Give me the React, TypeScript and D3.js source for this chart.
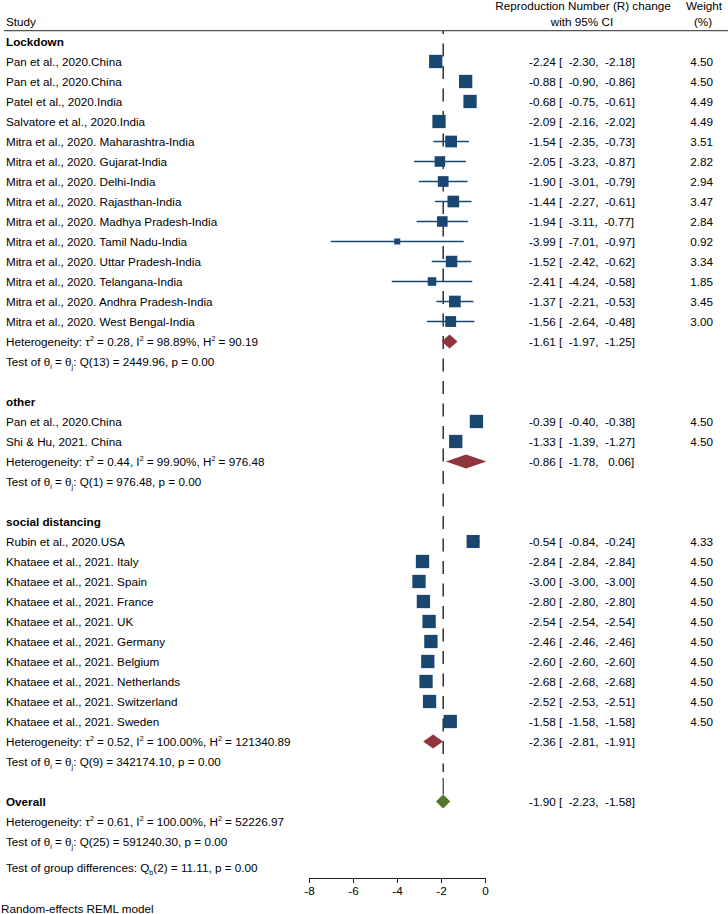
import React, { useEffect, useRef } from "react";
import * as d3 from "d3";

type Study = [string, number, number, number, number];

// study rows: label, estimate, lower CI, upper CI, weight (%)
const lockdown: Study[] = [
  ["Pan et al., 2020.China", -2.24, -2.3, -2.18, 4.5],
  ["Pan et al., 2020.China", -0.88, -0.9, -0.86, 4.5],
  ["Patel et al., 2020.India", -0.68, -0.75, -0.61, 4.49],
  ["Salvatore et al., 2020.India", -2.09, -2.16, -2.02, 4.49],
  ["Mitra et al., 2020. Maharashtra-India", -1.54, -2.35, -0.73, 3.51],
  ["Mitra et al., 2020. Gujarat-India", -2.05, -3.23, -0.87, 2.82],
  ["Mitra et al., 2020. Delhi-India", -1.9, -3.01, -0.79, 2.94],
  ["Mitra et al., 2020. Rajasthan-India", -1.44, -2.27, -0.61, 3.47],
  ["Mitra et al., 2020. Madhya Pradesh-India", -1.94, -3.11, -0.77, 2.84],
  ["Mitra et al., 2020. Tamil Nadu-India", -3.99, -7.01, -0.97, 0.92],
  ["Mitra et al., 2020. Uttar Pradesh-India", -1.52, -2.42, -0.62, 3.34],
  ["Mitra et al., 2020. Telangana-India", -2.41, -4.24, -0.58, 1.85],
  ["Mitra et al., 2020. Andhra Pradesh-India", -1.37, -2.21, -0.53, 3.45],
  ["Mitra et al., 2020. West Bengal-India", -1.56, -2.64, -0.48, 3.0],
];

const other: Study[] = [
  ["Pan et al., 2020.China", -0.39, -0.4, -0.38, 4.5],
  ["Shi & Hu, 2021. China", -1.33, -1.39, -1.27, 4.5],
];

const socialDistancing: Study[] = [
  ["Rubin et al., 2020.USA", -0.54, -0.84, -0.24, 4.33],
  ["Khataee et al., 2021. Italy", -2.84, -2.84, -2.84, 4.5],
  ["Khataee et al., 2021. Spain", -3.0, -3.0, -3.0, 4.5],
  ["Khataee et al., 2021. France", -2.8, -2.8, -2.8, 4.5],
  ["Khataee et al., 2021. UK", -2.54, -2.54, -2.54, 4.5],
  ["Khataee et al., 2021. Germany", -2.46, -2.46, -2.46, 4.5],
  ["Khataee et al., 2021. Belgium", -2.6, -2.6, -2.6, 4.5],
  ["Khataee et al., 2021. Netherlands", -2.68, -2.68, -2.68, 4.5],
  ["Khataee et al., 2021. Switzerland", -2.52, -2.53, -2.51, 4.5],
  ["Khataee et al., 2021. Sweden", -1.58, -1.58, -1.58, 4.5],
];

const groupNames = ["Lockdown", "other", "social distancing"];
const groupStudies = [lockdown, other, socialDistancing];
// pooled: estimate, lower, upper
const groupPooled = [
  [-1.61, -1.97, -1.25],
  [-0.86, -1.78, 0.06],
  [-2.36, -2.81, -1.91],
];
// heterogeneity: tau2, I2, H2, df, Q
const groupHet = [
  ["0.28", "98.89", "90.19", "13", "2449.96"],
  ["0.44", "99.90", "976.48", "1", "976.48"],
  ["0.52", "100.00", "121340.89", "9", "342174.10"],
];
const overallPooled = [-1.9, -2.23, -1.58];
const overallHet = ["0.61", "100.00", "52226.97", "25", "591240.30"];
const groupDiff = ["2", "11.11", "0.00"];
const xTicks = [-8, -6, -4, -2, 0];

const FONT = "'Liberation Sans', Arial, Helvetica, sans-serif";
const FS = 11.7;
const NAVY = "#1a476f";
const MAROON = "#90353b";
const GREEN = "#55752f";

const f2 = (v: number) => v.toFixed(2);
const pad6 = (v: number) => f2(v).padStart(6, " ");
const ciText = (e: number, l: number, u: number) => `${f2(e)} [ ${pad6(l)}, ${pad6(u)}]`;

const HetText = ({ y, h }: { y: number; h: string[] }) => (
  <text x={6} y={y} dy="0.35em">
    Heterogeneity: τ<tspan fontSize={7} dy={-5}>2</tspan>
    <tspan dy={5}> = {h[0]}, I</tspan>
    <tspan fontSize={7} dy={-5}>2</tspan>
    <tspan dy={5}> = {h[1]}%, H</tspan>
    <tspan fontSize={7} dy={-5}>2</tspan>
    <tspan dy={5}> = {h[2]}</tspan>
  </text>
);

const TestText = ({ y, h }: { y: number; h: string[] }) => (
  <text x={6} y={y} dy="0.35em">
    Test of θ<tspan fontSize={7} dy={3}>i</tspan>
    <tspan dy={-3}> = θ</tspan>
    <tspan fontSize={7} dy={3}>j</tspan>
    <tspan dy={-3}>: Q({h[3]}) = {h[4]}, p = 0.00</tspan>
  </text>
);

export default function App() {
  const axisRef = useRef<SVGGElement>(null);

  const x = d3.scaleLinear().domain([-8, 0]).range([309, 485]);
  const rowY = d3.scaleLinear().domain([0, 1]).range([61.5, 81.5]);
  const side = d3.scaleSqrt().domain([0, 4.5]).range([0, 13.3]);
  const DH = 7;

  useEffect(() => {
    const g = d3.select(axisRef.current);
    g.selectAll("*").remove();
    g.call(
      d3
        .axisBottom(x)
        .tickValues(xTicks)
        .tickFormat((d) => String(d))
        .tickSize(5)
        .tickSizeOuter(5)
        .tickPadding(4)
    );
    g.selectAll("path, line").attr("stroke", "#222").attr("stroke-width", 1);
    g.selectAll("text").attr("font-family", FONT).attr("font-size", FS).attr("fill", "#000");
  }, []);

  const elems: React.ReactNode[] = [];
  let i = -1;
  const diamond = (p: number[], y: number, color: string, minW = 0, key = "") => {
    let l = x(p[1]);
    let r = x(p[2]);
    if (r - l < minW) {
      const c = x(p[0]);
      l = c - minW / 2;
      r = c + minW / 2;
    }
    return (
      <path
        key={key}
        d={`M${l},${y}L${x(p[0])},${y - DH}L${r},${y}L${x(p[0])},${y + DH}Z`}
        fill={color}
      />
    );
  };

  groupNames.forEach((name, gi) => {
    elems.push(
      <text key={`g${gi}`} x={6} y={rowY(i)} dy="0.35em" fontWeight="bold">
        {name}
      </text>
    );
    i++;
    groupStudies[gi].forEach((s, si) => {
      const y = rowY(i);
      const w = side(s[4]);
      elems.push(
        <g key={`s${gi}-${si}`}>
          <text x={6} y={y} dy="0.35em">{s[0]}</text>
          <line x1={x(s[2])} x2={x(s[3])} y1={y} y2={y} stroke={NAVY} strokeWidth={1.3} />
          <rect x={x(s[1]) - w / 2} y={y - w / 2} width={w} height={w} fill={NAVY} />
          <text x={529} y={y} dy="0.35em" style={{ whiteSpace: "pre" }}>{ciText(s[1], s[2], s[3])}</text>
          <text x={713} y={y} dy="0.35em" textAnchor="end">{f2(s[4])}</text>
        </g>
      );
      i++;
    });
    const p = groupPooled[gi];
    elems.push(<HetText key={`h${gi}`} y={rowY(i)} h={groupHet[gi]} />);
    elems.push(diamond(p, rowY(i), MAROON, 0, `d${gi}`));
    elems.push(
      <text key={`c${gi}`} x={529} y={rowY(i)} dy="0.35em" style={{ whiteSpace: "pre" }}>
        {ciText(p[0], p[1], p[2])}
      </text>
    );
    i++;
    elems.push(<TestText key={`t${gi}`} y={rowY(i)} h={groupHet[gi]} />);
    i += 2;
  });

  const yOverall = rowY(i);
  const xOverall = x(overallPooled[0]);

  return (
    <svg
      width={728}
      height={914}
      style={{ position: "absolute", left: 0, top: 0 }}
      fontFamily={FONT}
      fontSize={FS}
      fill="#000"
    >
      <rect width={728} height={914} fill="#fff" />
      <text x={583} y={6} dy="0.35em" textAnchor="middle">Reproduction Number (R) change</text>
      <text x={582} y={21.7} dy="0.35em" textAnchor="middle">with 95% CI</text>
      <text x={704} y={6} dy="0.35em" textAnchor="middle">Weight</text>
      <text x={703} y={21.7} dy="0.35em" textAnchor="middle">(%)</text>
      <text x={6} y={21.7} dy="0.35em">Study</text>
      <line x1={4} x2={728} y1={30.7} y2={30.7} stroke="#555" strokeWidth={1.3} />

      <line
        x1={xOverall}
        x2={xOverall}
        y1={31}
        y2={772}
        stroke="#222"
        strokeWidth={1.4}
        strokeDasharray="13 9.5"
        strokeDashoffset={10}
      />
      <line x1={xOverall} x2={xOverall} y1={778} y2={yOverall - DH} stroke="#222" strokeWidth={1.1} />

      {elems}

      <text x={6} y={yOverall} dy="0.35em" fontWeight="bold">Overall</text>
      {diamond(overallPooled, yOverall, GREEN, 14, "ov")}
      <text x={529} y={yOverall} dy="0.35em" style={{ whiteSpace: "pre" }}>
        {ciText(overallPooled[0], overallPooled[1], overallPooled[2])}
      </text>
      <HetText y={rowY(i + 1)} h={overallHet} />
      <TestText y={rowY(i + 2)} h={overallHet} />
      <text x={6} y={868} dy="0.35em">
        Test of group differences: Q<tspan fontSize={7} dy={3}>b</tspan>
        <tspan dy={-3}>({groupDiff[0]}) = {groupDiff[1]}, p = {groupDiff[2]}</tspan>
      </text>

      <g ref={axisRef} transform="translate(0,878)" />

      <text x={1} y={909} dy="0.35em">Random-effects REML model</text>
    </svg>
  );
}
